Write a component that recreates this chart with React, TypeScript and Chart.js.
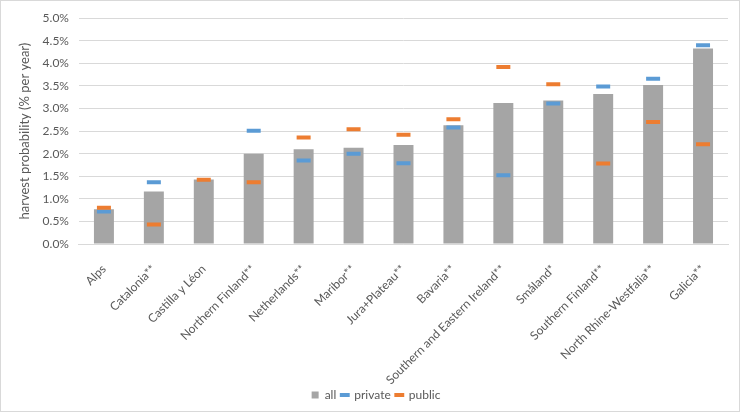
import React, { useEffect, useRef } from "react";
import { Chart, registerables } from "chart.js";

Chart.register(...registerables);

const categories = [
  "Alps",
  "Catalonia**",
  "Castilla y Léon",
  "Northern Finland**",
  "Netherlands**",
  "Maribor**",
  "Jura+Plateau**",
  "Bavaria**",
  "Southern and Eastern Ireland**",
  "Småland*",
  "Southern Finland**",
  "North Rhine-Westfalia**",
  "Galicia**",
];

const allValues = [0.77, 1.16, 1.43, 2.0, 2.1, 2.13, 2.19, 2.63, 3.12, 3.18, 3.32, 3.52, 4.33];
const privateValues = [0.72, 1.37, null, 2.51, 1.85, 2.0, 1.79, 2.58, 1.52, 3.11, 3.49, 3.66, 4.4];
const publicValues = [0.8, 0.43, 1.42, 1.37, 2.36, 2.54, 2.42, 2.76, 3.92, 3.54, 1.78, 2.7, 2.21];

const FONT = "Lato, 'Open Sans', sans-serif";
const TEXT = "#595959";

export default function App() {
  const ref = useRef<HTMLCanvasElement | null>(null);

  useEffect(() => {
    if (!ref.current) return;
    const chart = new Chart(ref.current, {
      type: "bar",
      data: {
        labels: categories,
        datasets: [
          {
            type: "bar",
            label: "all",
            data: allValues,
            backgroundColor: "#A5A5A5",
            barPercentage: 0.4,
            categoryPercentage: 1,
            pointStyle: "rect",
            order: 3,
          } as any,
          {
            type: "line",
            label: "private",
            data: privateValues,
            showLine: false,
            borderColor: "#5B9BD5",
            backgroundColor: "#5B9BD5",
            pointStyle: "line",
            pointRadius: 7,
            pointBorderWidth: 4,
            borderWidth: 3,
            order: 2,
          } as any,
          {
            type: "line",
            label: "public",
            data: publicValues,
            showLine: false,
            borderColor: "#ED7D31",
            backgroundColor: "#ED7D31",
            pointStyle: "line",
            pointRadius: 7,
            pointBorderWidth: 4,
            borderWidth: 3,
            order: 1,
          } as any,
        ],
      },
      options: {
        animation: false,
        responsive: true,
        maintainAspectRatio: false,
        layout: { padding: { left: 16, right: 4, top: 0, bottom: 0 } },
        plugins: {
          tooltip: { enabled: false },
          legend: {
            position: "bottom",
            labels: {
              usePointStyle: true,
              boxWidth: 7,
              boxHeight: 7,
              color: TEXT,
              font: { family: FONT, size: 12 },
              padding: 5,
              sort: (a: any, b: any) => a.datasetIndex - b.datasetIndex,
            },
          },
        },
        scales: {
          x: {
            grid: { display: false },
            border: { display: true, color: "#D9D9D9" },
            afterFit: (scale: any) => {
              scale.height = 140;
            },
            ticks: {
              color: TEXT,
              padding: 10,
              font: { family: FONT, size: 12 },
              minRotation: 45,
              maxRotation: 45,
              autoSkip: false,
            },
          },
          y: {
            min: 0,
            max: 5,
            grid: { color: "#D9D9D9", drawTicks: false },
            border: { display: false },
            ticks: {
              stepSize: 0.5,
              color: TEXT,
              padding: 10,
              font: { family: FONT, size: 12 },
              callback: (v: any) => Number(v).toFixed(1) + "%",
            },
            title: {
              display: true,
              text: "harvest probability (% per year)",
              color: TEXT,
              padding: 0,
              font: { family: FONT, size: 13 },
            },
          },
        },
      },
    });
    return () => chart.destroy();
  }, []);

  return (
    <div
      style={{
        position: "fixed",
        left: 0,
        top: 0,
        width: 740,
        height: 412,
        boxSizing: "border-box",
        border: "1px solid #D9D9D9",
        background: "#fff",
      }}
    >
      <canvas ref={ref} />
    </div>
  );
}
